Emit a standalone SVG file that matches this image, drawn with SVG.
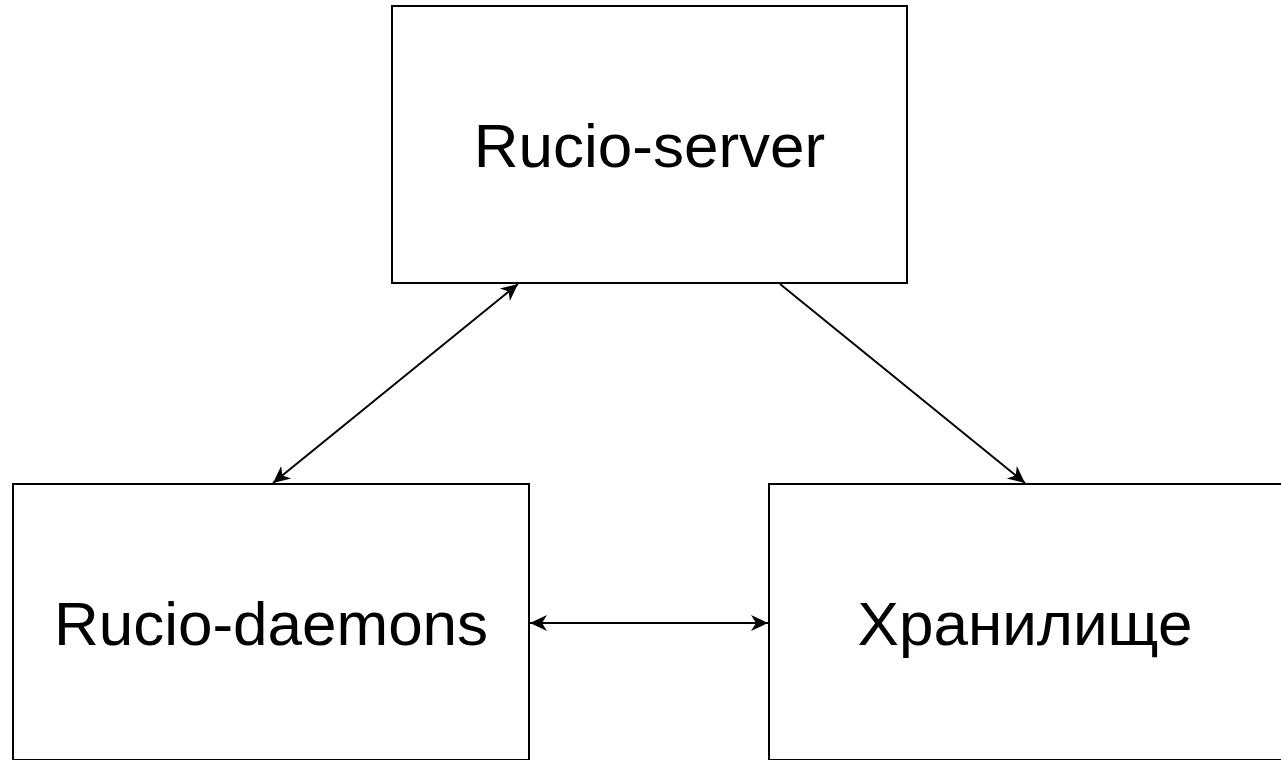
<svg xmlns="http://www.w3.org/2000/svg" width="1281" height="760" viewBox="0 0 1281 760">
<defs>
<style>
.box{fill:#ffffff;stroke:#000000;stroke-width:2}
.lbl{font-family:"Liberation Sans",Arial,sans-serif;font-size:62px;fill:#000000;text-anchor:middle}
.con{stroke:#000000;stroke-width:2;fill:none}
</style>
<marker id="ah" viewBox="0 0 18 18" refX="17" refY="9" markerWidth="18" markerHeight="18" markerUnits="userSpaceOnUse" orient="auto-start-reverse">
<path d="M0,1 L17,9 L0,17 L5,9 Z" fill="#000000"/>
</marker>
</defs>
<rect width="1281" height="760" fill="#ffffff"/>
<g id="rucio-server">
<rect class="box" x="392" y="6" width="515" height="277"/>
<text class="lbl" x="649.5" y="167">Rucio-server</text>
</g>
<g id="rucio-daemons">
<rect class="box" x="13" y="484" width="516" height="276"/>
<text class="lbl" x="271" y="645">Rucio-daemons</text>
</g>
<g id="storage">
<rect class="box" x="769" y="484" width="520" height="276"/>
<text class="lbl" x="1025" y="645">Хранилище</text>
</g>
<g id="connectors">
<line class="con" x1="273" y1="483" x2="518" y2="284" marker-start="url(#ah)" marker-end="url(#ah)"/>
<line class="con" x1="780" y1="284" x2="1025" y2="483" marker-end="url(#ah)"/>
<line class="con" x1="530" y1="623" x2="768" y2="623" marker-start="url(#ah)" marker-end="url(#ah)"/>
</g>
</svg>
